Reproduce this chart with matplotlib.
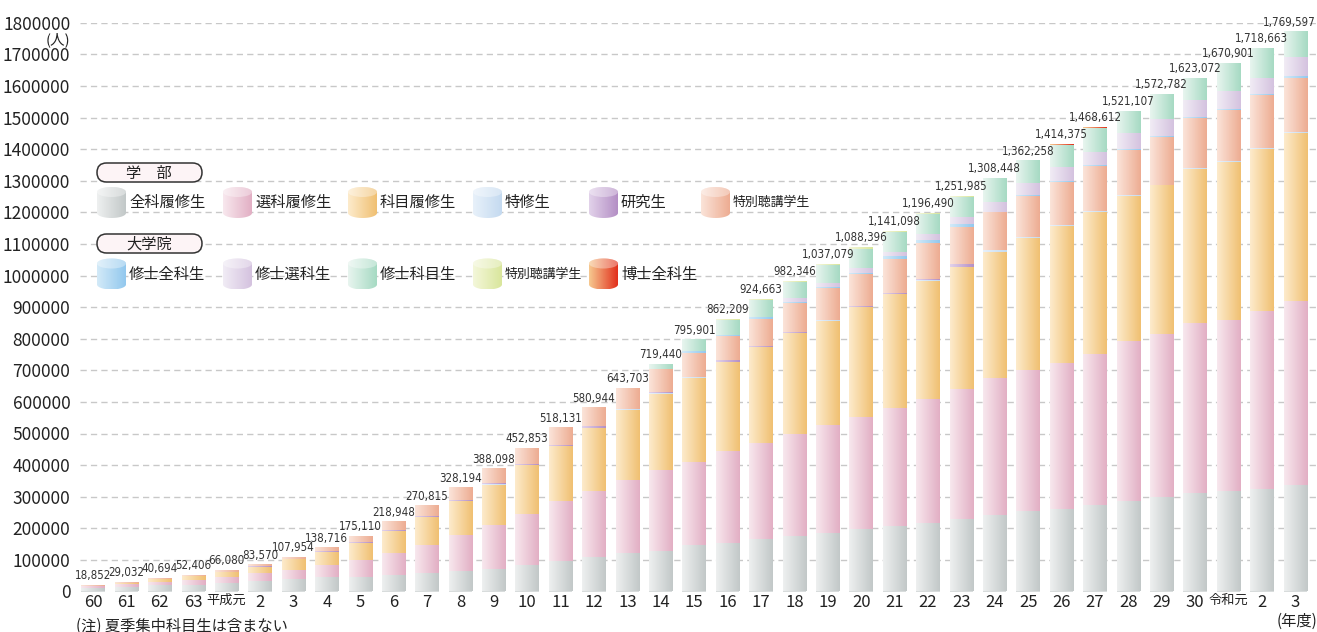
import numpy as np
import matplotlib.pyplot as plt
from matplotlib.colors import LinearSegmentedColormap, to_rgb
from matplotlib.patches import FancyBboxPatch, Ellipse, PathPatch
from matplotlib.path import Path

plt.rcParams['font.family'] = ['Noto Sans CJK JP', 'DejaVu Sans']

# 年度
years = ['60', '61', '62', '63', '平成元', '2', '3', '4', '5', '6', '7', '8', '9', '10',
         '11', '12', '13', '14', '15', '16', '17', '18', '19', '20', '21', '22', '23',
         '24', '25', '26', '27', '28', '29', '30', '令和元', '2', '3']

totals = [18852, 29032, 40694, 52406, 66080, 83570, 107954, 138716, 175110, 218948,
          270815, 328194, 388098, 452853, 518131, 580944, 643703, 719440, 795901,
          862209, 924663, 982346, 1037079, 1088396, 1141098, 1196490, 1251985,
          1308448, 1362258, 1414375, 1468612, 1521107, 1572782, 1623072, 1670901,
          1718663, 1769597]

# 学部 (千人)
zenka = [11.5, 15.5, 20, 22, 28, 34, 39, 45, 47.4, 53.7, 60, 64, 70.5, 83.2, 95.8,
         110.5, 122, 129.5, 146.3, 154.7, 167.4, 175.8, 186.3, 196.8, 208.4, 217.9,
         228.4, 242, 255.8, 262, 272.6, 287.4, 300, 312.6, 316.8, 325.2, 337.9]
senka = [5.5, 7.5, 11.5, 15, 18.5, 24, 30.5, 38, 53.7, 67.4, 88.4, 115.8, 140, 163,
         189.5, 208.4, 231.6, 255.8, 264, 288.4, 303, 324, 341, 355.8, 373.7, 391.6,
         412.6, 434.8, 446.2, 461, 480, 505.2, 515.8, 536.8, 542, 562, 581]
kamoku = [1.2, 4.5, 7, 12.5, 15, 20.5, 32, 43, 53.7, 71.6, 88.4, 107.4, 127.4, 153.7,
          173.7, 200, 222, 241, 266, 283, 303, 318, 328.4, 348.4, 360, 372.5, 386.4,
          398, 417, 433.8, 448.4, 460, 470, 487.6, 501, 513, 532]
tokushu = [0, 0, 0, 0, 0, 0, 0, 0, 0, 0, 0, 0, 3, 0, 2, 0, 3, 2, 3, 0, 0, 0, 5, 0, 0,
           3, 0, 6, 2, 2, 2, 1.5, 2, 2, 2, 2, 2]
kenkyu = [0, 0, 0, 0, 1.2, 1.5, 1.5, 1, 1.5, 0.5, 2, 2, 2, 4, 2, 5, 0, 3, 0, 6, 5, 4,
          0, 3, 4, 2.5, 7.5, 0, 0, 0, 0, 0, 0, 0, 0, 0, 0]
tokubetsu = [0.65, 1.5, 2.2, 2.9, 3.4, 3.6, 5, 11.7, 18.8, 25.7, 32, 39, 45.2, 49, 55.1,
             57, 65.1, 71.6, 74.7, 76.8, 83, 90.5, 100, 102, 105.6, 114.5, 117.7, 119,
             130, 137, 143, 144, 150, 158, 163, 169, 173]

# 大学院 (千人)
m_zenka = [0, 0, 0, 0, 0, 0, 0, 0, 0, 0, 0, 0, 0, 0, 0, 0, 0, 2, 6.3, 4, 6.3, 4, 2, 3,
           9.5, 10.5, 10.5, 2, 3, 3, 3, 2, 3, 3, 3, 3, 4]
m_senka = [0, 0, 0, 0, 0, 0, 0, 0, 0, 0, 0, 0, 0, 0, 0, 0, 0, 0, 0, 0, 0, 12.6, 15,
           15, 14, 20, 21, 32, 38, 43, 41, 52, 55, 55, 55, 52, 60]
m_kamoku = [0, 0, 0, 0, 0, 0, 0, 0, 0, 0, 0, 0, 0, 0, 0, 0, 0, 14.5, 35.6, 47.8, 55,
            51.4, 57, 61, 62.9, 61, 65.9, 74.6, 70.3, 70.6, 76.6, 69, 77, 68, 88.1,
            92.5, 79.7]
m_tokubetsu = [0, 0, 0, 0, 0, 0, 0, 0, 0, 0, 0, 0, 0, 0, 0, 0, 0, 0, 0, 1.5, 2, 2, 2.4,
               3.4, 3, 3, 2, 0, 0, 0, 0, 0, 0, 0, 0, 0, 0]
hakase = [0, 0, 0, 0, 0, 0, 0, 0, 0, 0, 0, 0, 0, 0, 0, 0, 0, 0, 0, 0, 0, 0, 0, 0, 0, 0,
          0, 0, 0, 2, 2, 0, 0, 0, 0, 0, 0]

# name, values, (left colour, right colour)
series = [
    ('全科履修生', zenka, ('#eef0f0', '#c2c8c8')),
    ('選科履修生', senka, ('#f8e8ee', '#e2afc4')),
    ('科目履修生', kamoku, ('#fdebcc', '#f0c072')),
    ('特修生', tokushu, ('#e8f1fa', '#c4daf0')),
    ('研究生', kenkyu, ('#e2d2ea', '#b48fc5')),
    ('特別聴講学生', tokubetsu, ('#fbe4d9', '#edac92')),
    ('修士全科生', m_zenka, ('#d3eaf8', '#92c8ee')),
    ('修士選科生', m_senka, ('#f1ecf5', '#d4c2df')),
    ('修士科目生', m_kamoku, ('#e8f5ef', '#a6dac3')),
    ('特別聴講学生', m_tokubetsu, ('#f4f7da', '#d9e69c')),
    ('博士全科生', hakase, ('#f6c890', '#e2301c')),
]

W, H = 1317, 632
fig = plt.figure(figsize=(W / 100, H / 100), dpi=100)
ax = fig.add_axes([80 / W, 1 - 591.5 / H, 1 - 80 / W, (591.5 - 22.7) / H])

grad = np.linspace(0, 1, 64).reshape(1, -1)
width = 0.70
x = np.arange(len(years))

for i in x:
    segs = [s[1][i] * 1000 for s in series]
    k = totals[i] / sum(segs)
    bottom = 0
    for (name, vals, (c0, c1)), v in zip(series, segs):
        h = v * k
        if h <= 0:
            continue
        mid = tuple((np.array(to_rgb(c0)) + np.array(to_rgb(c1))) / 2)
        ax.bar(i, h, bottom=bottom, width=width, color=mid, lw=0, zorder=2)
        cm = LinearSegmentedColormap.from_list('g', [c0, c1])
        ax.imshow(grad, cmap=cm, aspect='auto', interpolation='bilinear',
                  extent=(i - width / 2, i + width / 2, bottom, bottom + h), zorder=3)
        bottom += h
    last = i == len(years) - 1
    ax.text(i + 0.62 if last else i, totals[i] + 10000, f'{totals[i]:,}',
            ha='right' if last else 'center', va='bottom',
            fontsize=8.3, color='#333333', clip_on=False, zorder=5,
            family='DejaVu Sans', fontstretch='condensed')

ax.set_xlim(-0.39, 36.65)
ax.set_ylim(0, 1800000)
for yv in range(100000, 1800001, 100000):
    ax.axhline(yv, color='#c8c8c8', lw=1.0, ls=(0, (4.5, 3)), zorder=1)

ax.set_yticks(range(0, 1800001, 100000))
ax.set_yticklabels([str(v) for v in range(0, 1800001, 100000)], fontsize=12.5,
                   color='#222222')
ax.set_xticks(x)
ax.set_xticklabels(years, fontsize=12, color='#222222')
for lab in ax.get_xticklabels():
    if len(lab.get_text()) > 2:
        lab.set_fontsize(9.5)
ax.tick_params(axis='both', length=0)
ax.tick_params(axis='y', pad=7)
ax.tick_params(axis='x', pad=2)
for sp in ax.spines.values():
    sp.set_visible(False)

# overlay in pixel coordinates for legend and notes
ov = fig.add_axes([0, 0, 1, 1], zorder=10)
ov.set_xlim(0, W)
ov.set_ylim(H, 0)
ov.axis('off')
ov.patch.set_alpha(0)


def cylinder(x0, yc, c0, c1, w=29, h=31, ry=5):
    cx = x0 + w / 2
    top, bot = yc - h / 2 + ry, yc + h / 2 - ry
    t = np.linspace(0, np.pi, 30)
    upper = np.column_stack([cx + w / 2 * np.cos(t), top - ry * np.sin(t)])
    lower = np.column_stack([cx - w / 2 * np.cos(t), bot + ry * np.sin(t)])
    verts = np.vstack([upper, lower, upper[:1]])
    patch = PathPatch(Path(verts), facecolor='none', edgecolor='none')
    ov.add_patch(patch)
    cm = LinearSegmentedColormap.from_list('g', [c0, c1])
    im = ov.imshow(grad, cmap=cm, aspect='auto', interpolation='bilinear',
                   extent=(x0, x0 + w, yc + h / 2, yc - h / 2))
    im.set_clip_path(patch)
    ov.add_patch(Ellipse((cx, top), w, 2 * ry, facecolor='white', alpha=0.35,
                         edgecolor='none'))


def tag(x0, y0, label):
    ov.add_patch(FancyBboxPatch((x0, y0), 105, 19,
                                boxstyle='round,pad=0,rounding_size=9.5',
                                facecolor='#fdf4f6', edgecolor='#333333', lw=1.1))
    ov.text(x0 + 52, y0 + 10, label, ha='center', va='center', fontsize=11,
            color='#222222')


tag(97, 163, '学　部')
tag(97, 234, '大学院')

icon_x = [97, 223, 348, 473, 589, 701]
rows = [(202.5, series[:6]), (274, series[6:])]
for yc, items in rows:
    for x0, (name, vals, (c0, c1)) in zip(icon_x, items):
        cylinder(x0, yc, c0, c1)
        ov.text(x0 + 32, yc, name, ha='left', va='center',
                fontsize=9.3 if len(name) > 5 else 11, color='#222222')

ov.text(58, 40, '(人)', ha='center', va='center', fontsize=10.5, color='#222222')
ov.text(1297, 621, '(年度)', ha='center', va='center', fontsize=11, color='#222222')
ov.text(76, 626, '(注) 夏季集中科目生は含まない', ha='left', va='center', fontsize=11,
        color='#222222')

fig.savefig('out.png', dpi=100)
